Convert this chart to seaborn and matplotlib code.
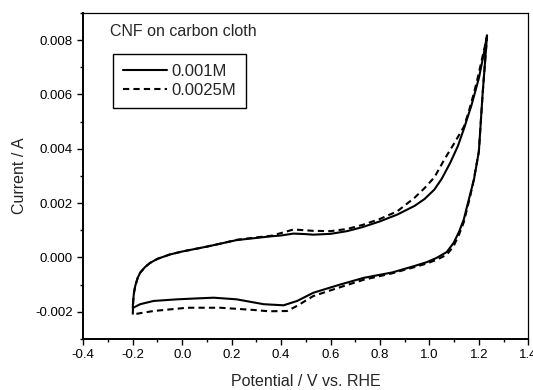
import matplotlib
matplotlib.use('Agg')
import matplotlib.pyplot as plt
import seaborn as sns
import pandas as pd
from matplotlib.ticker import MultipleLocator

# 0.001M: 扫描顺序 (电位 V, 电流 mA)
v_001 = [-0.2, -0.198, -0.195, -0.19, -0.18, -0.17, -0.15, -0.13, -0.1, -0.05, 0.0, 0.05, 0.1,
         0.15, 0.22, 0.3, 0.36, 0.4, 0.45, 0.5, 0.53, 0.6, 0.667, 0.73, 0.8, 0.87, 0.94, 0.98,
         1.02, 1.05, 1.085, 1.115, 1.14, 1.17, 1.2, 1.22, 1.233,
         1.225, 1.215, 1.2, 1.18, 1.166, 1.15, 1.139, 1.12, 1.098, 1.07, 1.03, 0.99, 0.937, 0.85,
         0.734, 0.63, 0.53, 0.465, 0.41, 0.33, 0.22, 0.127, 0.05, -0.02, -0.116, -0.17, -0.2]
i_001 = [-1.82, -1.55, -1.3, -1.05, -0.75, -0.56, -0.35, -0.2, -0.05, 0.11, 0.22, 0.31, 0.40,
         0.50, 0.64, 0.72, 0.78, 0.81, 0.88, 0.86, 0.84, 0.87, 0.97, 1.12, 1.33, 1.58, 1.9, 2.15,
         2.5, 2.9, 3.5, 4.1, 4.75, 5.6, 6.6, 7.5, 8.18,
         7.2, 6.0, 3.9, 2.86, 2.37, 1.8, 1.4, 0.95, 0.54, 0.2, -0.01, -0.17, -0.32, -0.55,
         -0.75, -1.02, -1.3, -1.6, -1.76, -1.72, -1.54, -1.48, -1.51, -1.54, -1.6, -1.72, -1.86]

# 0.0025M
v_0025 = [-0.2, -0.198, -0.195, -0.19, -0.18, -0.17, -0.15, -0.13, -0.1, -0.05, 0.0, 0.05, 0.1,
          0.15, 0.22, 0.3, 0.36, 0.4, 0.45, 0.5, 0.53, 0.6, 0.667, 0.73, 0.8, 0.87, 0.94, 0.98,
          1.02, 1.06, 1.1, 1.14, 1.16, 1.18, 1.195, 1.22, 1.233,
          1.225, 1.215, 1.2, 1.18, 1.166, 1.15, 1.139, 1.12, 1.098, 1.07, 1.03, 0.99, 0.937, 0.85,
          0.734, 0.63, 0.53, 0.465, 0.424, 0.35, 0.287, 0.154, 0.019, -0.116, -0.17, -0.2]
i_0025 = [-2.1, -1.6, -1.3, -1.05, -0.75, -0.56, -0.35, -0.2, -0.05, 0.11, 0.22, 0.31, 0.40,
          0.50, 0.65, 0.74, 0.8, 0.9, 1.03, 1.0, 0.98, 0.97, 1.05, 1.2, 1.42, 1.7, 2.2, 2.55,
          2.95, 3.6, 4.2, 4.82, 5.4, 6.05, 6.6, 7.6, 8.1,
          7.2, 6.0, 3.9, 2.9, 2.3, 1.7, 1.3, 0.85, 0.42, 0.1, -0.08, -0.22, -0.36, -0.58,
          -0.82, -1.12, -1.42, -1.78, -1.97, -1.98, -1.93, -1.85, -1.85, -1.97, -2.05, -2.1]

labels = ['0.001M', '0.0025M']

sns.set_style('ticks')
plt.rcParams['font.family'] = ['Liberation Sans', 'DejaVu Sans']

fig = plt.figure(figsize=(5.33, 3.9), dpi=100)
ax = fig.add_axes([0.1563, 0.1308, 0.8349, 0.8359])

df1 = pd.DataFrame({'V': v_001, 'I': [x * 1e-3 for x in i_001]})
df2 = pd.DataFrame({'V': v_0025, 'I': [x * 1e-3 for x in i_0025]})
sns.lineplot(data=df1, x='V', y='I', sort=False, estimator=None, color='black',
             linewidth=1.5, label=labels[0], ax=ax, legend=False)
sns.lineplot(data=df2, x='V', y='I', sort=False, estimator=None, color='black',
             linewidth=1.5, linestyle=(0, (3, 2)), label=labels[1], ax=ax, legend=False)

ax.set_xlim(-0.4, 1.4)
ax.set_ylim(-0.003, 0.009)
ax.xaxis.set_major_locator(MultipleLocator(0.2))
ax.xaxis.set_minor_locator(MultipleLocator(0.1))
ax.yaxis.set_major_locator(MultipleLocator(0.002))
ax.yaxis.set_minor_locator(MultipleLocator(0.001))
ax.xaxis.set_major_formatter(plt.FuncFormatter(lambda v, p: f'{v:.1f}'))
ax.yaxis.set_major_formatter(plt.FuncFormatter(lambda v, p: f'{v:.3f}'))
ax.tick_params(which='major', length=4, width=1, labelsize=9.5, color='black', labelcolor='black')
ax.tick_params(which='minor', length=2.5, width=1, color='black')
ax.tick_params(top=False, right=False, which='both')

for s in ['left', 'bottom']:
    ax.spines[s].set_linewidth(1.4)
for s in ['top', 'right']:
    ax.spines[s].set_linewidth(0.9)
for s in ax.spines.values():
    s.set_color('black')

ax.set_xlabel('Potential / V vs. RHE', fontsize=11.5, va='center')
ax.set_ylabel('Current / A', fontsize=11.5, va='center')
ax.xaxis.set_label_coords(0.5, (339 - 382) / 326)
ax.yaxis.set_label_coords((19 - 83.3) / 445, 0.5)

ax.text(0.06, 0.9426, 'CNF on carbon cloth', transform=ax.transAxes, fontsize=11.5,
        ha='left', va='center')

ax.legend(loc='upper left', bbox_to_anchor=(0.2126, 0.8608), bbox_transform=fig.transFigure,
          frameon=True, fancybox=False, edgecolor='black', framealpha=1, borderaxespad=0,
          handlelength=2.6, handletextpad=0.3, fontsize=12, borderpad=0.6, labelspacing=0.2)
ax.get_legend().get_frame().set_linewidth(1.0)

fig.savefig('out.png', dpi=100)
